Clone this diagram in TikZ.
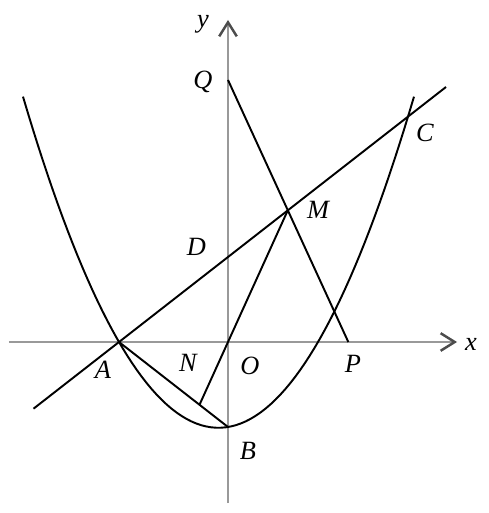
\documentclass[tikz,border=0pt]{standalone}
\usepackage{fontspec}
\setmainfont{Liberation Serif}
\usetikzlibrary{arrows.meta}

\begin{document}
\begin{tikzpicture}[>={Straight Barb[length=8pt,width=10pt,line width=1.4pt,color=black!70]},
    curve/.style={line width=1.1pt},
    axis/.style={line width=1.5pt, gray!80},
    lbl/.style={font=\fontsize{15}{18}\selectfont\itshape}]
                        \useasboundingbox (-4.56,-3.42) rectangle (5.2,6.84);
                        % axes
                        \draw[axis,->] (-4.38, 0) -- (4.58, 0);
                        \draw[axis,->] (0, -3.22) -- (0, 6.44);
                        % points
                        \coordinate (O) at (0, 0);
                        \coordinate (A) at (-2.18, 0);
                        \coordinate (B) at (0, -1.7);
                        \coordinate (C) at (3.6, 4.51);
                        \coordinate (D) at (0, 1.7);
                        \coordinate (P) at (2.406, 0);
                        \coordinate (Q) at (0, 5.24);
                        \coordinate (M) at (intersection of A--C and Q--P);
                        \coordinate (N) at (intersection of A--B and O--M);
                        \coordinate (L1) at (-3.89, -1.334);
                        \coordinate (L2) at (4.36, 5.1);
                        % parabola
                        \draw[curve] plot[domain=-4.1:3.72, samples=80] (\x, {0.4332*(\x+2.18)*(\x-1.8)});
                        % lines
                        \draw[curve] (L1) -- (L2);
                        \draw[curve] (A) -- (B);
                        \draw[curve] (N) -- (M);
                        \draw[curve] (Q) -- (P);
                        % labels
                        \node[lbl] at (4.86, -0.04) {x};
                        \node[lbl] at (-0.5, 6.36) {y};
                        \node[lbl] at (-0.5, 5.2) {Q};
                        \node[lbl] at (-0.63, 1.91) {D};
                        \node[lbl] at (1.8, 2.64) {M};
                        \node[lbl] at (3.94, 4.18) {C};
                        \node[lbl] at (2.5, -0.44) {P};
                        \node[lbl] at (0.44, -0.48) {O};
                        \node[lbl] at (-0.8, -0.42) {N};
                        \node[lbl] at (-2.5, -0.56) {A};
                        \node[lbl] at (0.4, -2.18) {B};
                    \end{tikzpicture}
\end{document}
